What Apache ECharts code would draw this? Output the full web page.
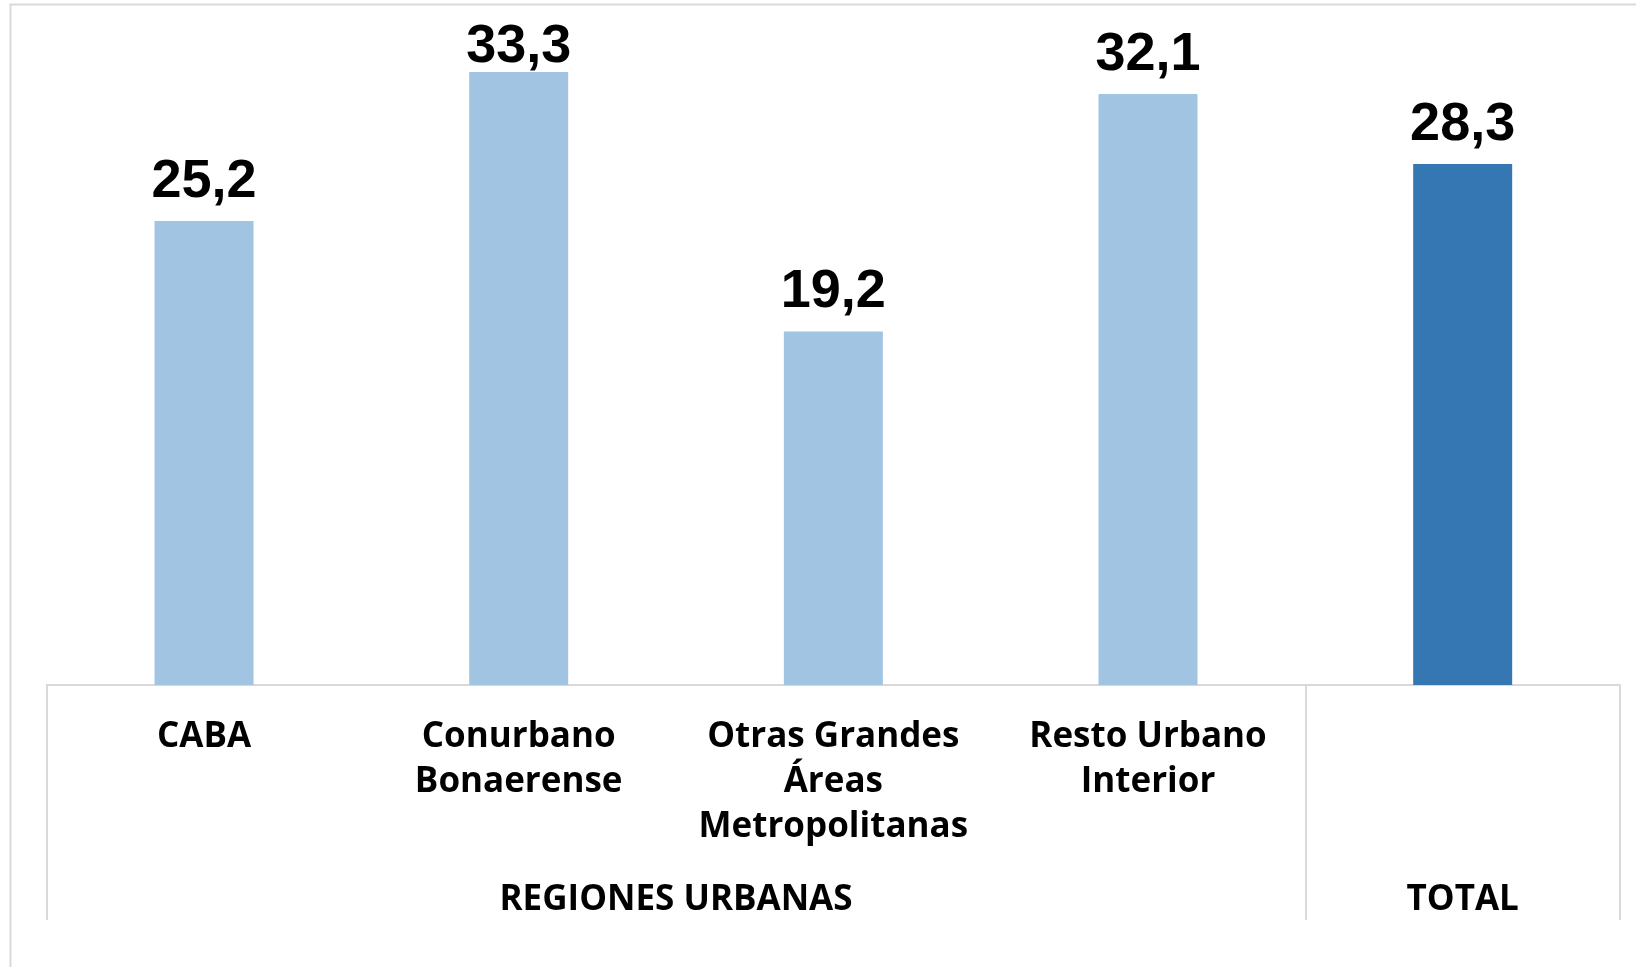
<!DOCTYPE html>
<html>
<head>
<meta charset="utf-8">
<script src="https://cdn.jsdelivr.net/npm/echarts@6/dist/echarts.min.js"></script>
<style>
html,body{margin:0;padding:0;background:#fff;}
#chart{width:1636px;height:967px;}
</style>
</head>
<body>
<div id="chart"></div>
<script>
const categories = ['CABA', 'Conurbano\nBonaerense', 'Otras Grandes\nÁreas\nMetropolitanas', 'Resto Urbano\nInterior', ''];
const values = [25.2, 33.3, 19.2, 32.1, 28.3];
const groupNames = ['REGIONES URBANAS', 'TOTAL'];
const groupCenters = [2, 4.5];
const groupBounds = [0, 4, 5];
const lightBlue = '#A2C4E3';
const darkBlue = '#3577B3';

const catFont = '"Open Sans", Lato, sans-serif';
const yMax = 35;
const chart = echarts.init(document.getElementById('chart'));
chart.setOption({
  backgroundColor: '#fff',
  animation: false,
  graphic: [{
    type: 'rect', silent: true,
    shape: { x: 10.5, y: 4.5, width: 3000, height: 3000 },
    style: { fill: 'none', stroke: '#D9D9D9', lineWidth: 2 }
  }],
  grid: { left: 46.7, right: 16, top: 40.6, bottom: 282 },
  xAxis: [{
    type: 'category',
    data: categories,
    axisLine: { show: true, lineStyle: { color: '#D9D9D9', width: 2 } },
    axisTick: { show: false },
    axisLabel: {
      interval: 0, margin: 30, color: '#000', fontFamily: catFont, fontWeight: 'bold',
      fontSize: 35, lineHeight: 45
    }
  }, {
    type: 'value', position: 'bottom', min: 0, max: 5,
    splitLine: { show: false },
    axisLine: { show: false },
    axisTick: { show: true, customValues: groupBounds, length: 235, lineStyle: { color: '#D9D9D9', width: 2 } },
    axisLabel: {
      customValues: groupCenters, margin: 195, color: '#000', fontFamily: catFont, fontWeight: 'bold',
      fontSize: 35, lineHeight: 40,
      formatter: function (v) { return groupNames[groupCenters.indexOf(v)]; }
    }
  }],
  yAxis: {
    type: 'value', min: 0, max: yMax, show: false, splitLine: { show: false }
  },
  series: [{
    type: 'bar',
    xAxisIndex: 0,
    barWidth: 99,
    data: values.map(function (v, i) {
      const item = { value: v, itemStyle: { color: i === values.length - 1 ? darkBlue : lightBlue } };
      // label squeezed toward the bar when it would run past the top of the chart
      if (v > 33) item.label = { distance: -2 };
      return item;
    }),
    label: {
      show: true, position: 'top', distance: 12, color: '#000',
      fontFamily: '"Liberation Sans", Arial, sans-serif', fontWeight: 'bold', fontSize: 54,
      formatter: function (p) { return p.value.toFixed(1).replace('.', ','); }
    }
  }]
});
</script>
</body>
</html>
